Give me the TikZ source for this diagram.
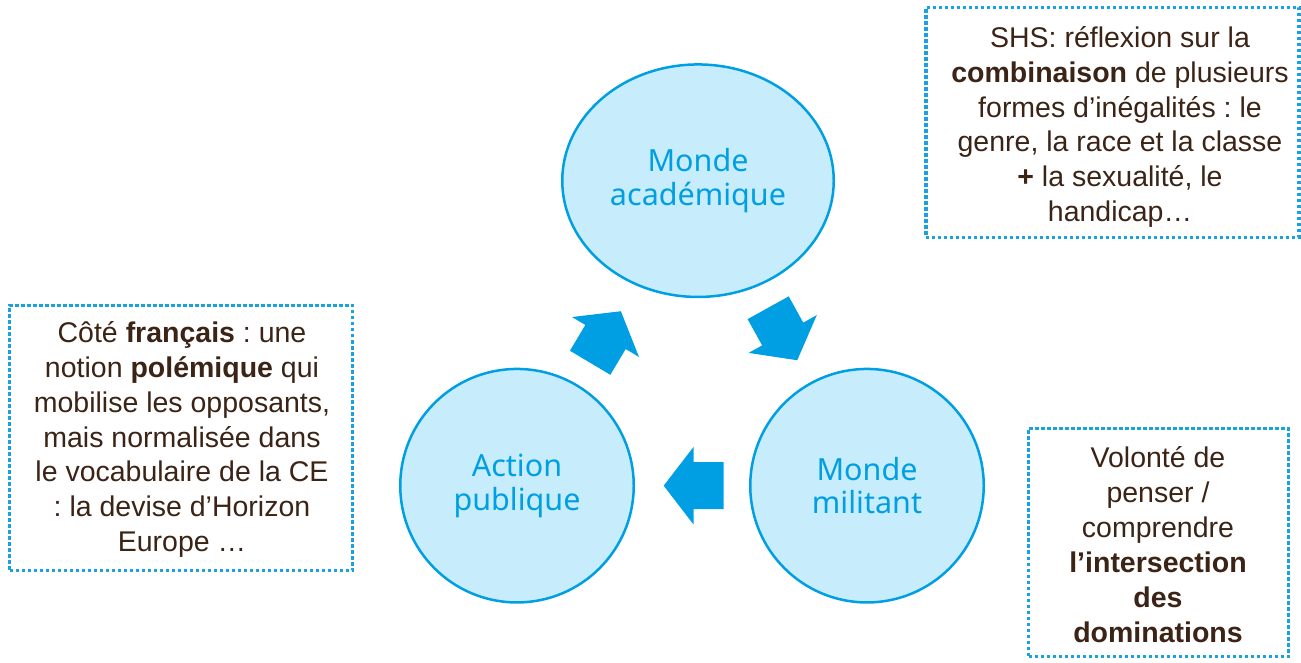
\documentclass[tikz,border=0pt]{standalone}
\usepackage{fontspec}
\setmainfont{Liberation Sans}
\newfontfamily\circfont{Noto Sans}
\usetikzlibrary{shapes.geometric}
\frenchspacing
\definecolor{cblue}{HTML}{009FE3}
\definecolor{cfill}{HTML}{C7EDFC}
\definecolor{cdot}{HTML}{1AA1E2}
\definecolor{cbrown}{HTML}{3B2416}
\tikzset{
  world/.style={ellipse, draw=cblue, fill=cfill, line width=2.5pt, inner sep=0pt,
    text=cblue, align=center, font=\circfont\fontsize{30.5}{33.5}\selectfont},
  notebox/.style={draw=cdot, line width=3.4pt, dash pattern=on 3.4pt off 2.6pt, inner sep=0pt},
  notetext/.style={text=cbrown, align=center, inner sep=0pt,
    font=\fontsize{28.5}{34.9}\selectfont},
  blockarrow/.pic={\fill[cblue] (-30,-23.5) -- (0,-23.5) -- (0,-39) -- (30,0)
     -- (0,39) -- (0,23.5) -- (-30,23.5) -- cycle;}
}
\begin{document}
\begin{tikzpicture}[x=1pt,y=1pt]
\useasboundingbox (0,0) rectangle (1301,662);
% circles
\node[world, minimum width=271.5pt, minimum height=232.5pt] (acad) at (698,481.3) {Monde\\académique};
\node[world, minimum width=233.5pt, minimum height=233.5pt] (action) at (517,176.3) {Action\\publique};
\node[world, minimum width=233.5pt, minimum height=233.5pt] (milit) at (867,176.3) {Monde\\militant};
% block arrows
\coordinate (a1) at (605.5,325);
\coordinate (a2) at (782.7,328);
\coordinate (a3) at (693.7,176.3);
\pic[rotate=59.2] at (a1) {blockarrow};
\pic[rotate=-61] at (a2) {blockarrow};
\pic[rotate=180] at (a3) {blockarrow};
% note boxes
\node[notebox, minimum width=373pt, minimum height=230pt] (box1) at (1112.5,539.5) {};
\node[notetext] (t1) at (1120,535) {SHS: réflexion sur la\\\textbf{combinaison} de plusieurs\\formes d’inégalités : le\\genre, la race et la classe\\\textbf{+} la sexualité, le\\handicap…};
\node[notebox, minimum width=343pt, minimum height=265pt] (box2) at (181,224) {};
\node[notetext] (t2) at (182,222.5) {Côté \textbf{français} : une\\notion \textbf{polémique} qui\\mobilise les opposants,\\mais normalisée dans\\le vocabulaire de la CE\\: la devise d’Horizon\\Europe …};
\node[notebox, minimum width=260pt, minimum height=228pt] (box3) at (1158.5,119.5) {};
\node[notetext] (t3) at (1158,117.5) {Volonté de\\penser /\\comprendre\\\textbf{l’intersection}\\\textbf{des}\\\textbf{dominations}};
\end{tikzpicture}
\end{document}
